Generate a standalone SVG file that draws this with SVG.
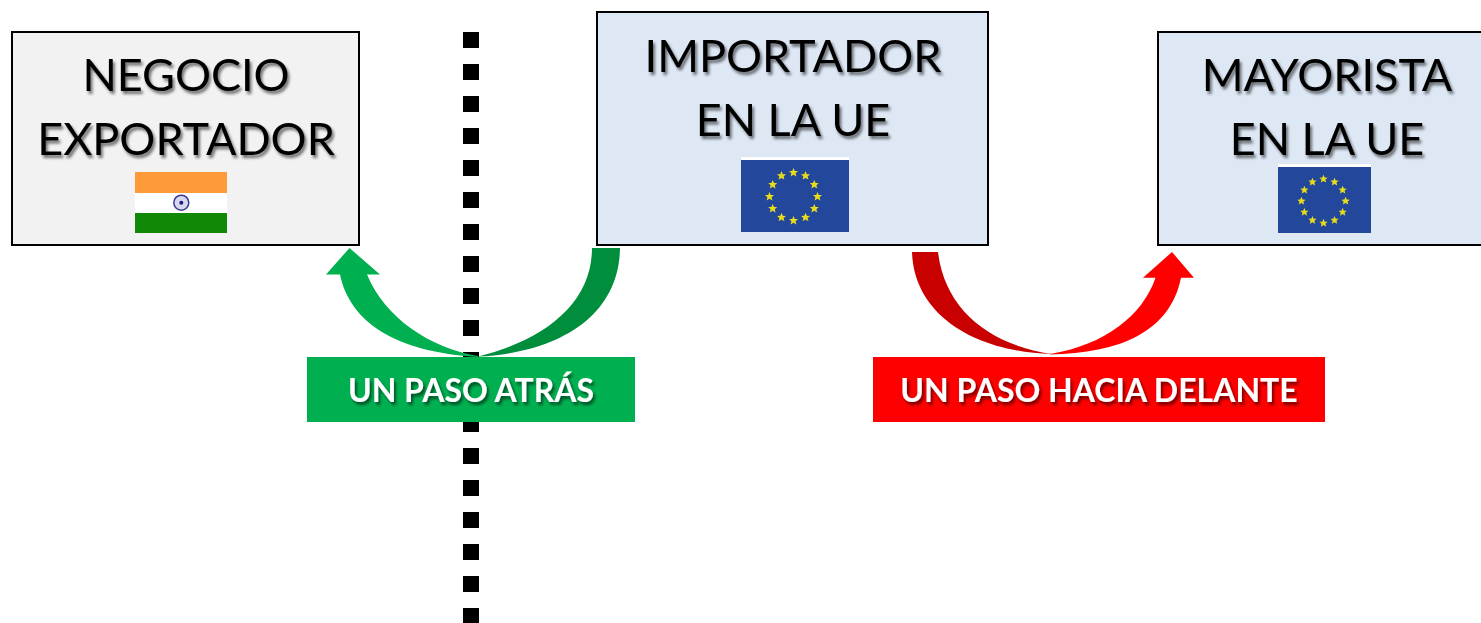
<svg xmlns="http://www.w3.org/2000/svg" width="1481" height="623" viewBox="0 0 1481 623">
<defs>
<filter id="sh" x="-10%" y="-20%" width="120%" height="140%"><feGaussianBlur in="SourceAlpha" stdDeviation="1.6"/><feOffset dx="2" dy="2.5"/><feComponentTransfer><feFuncA type="linear" slope="0.55"/></feComponentTransfer><feMerge><feMergeNode/><feMergeNode in="SourceGraphic"/></feMerge></filter>
<filter id="soft" x="-10%" y="-10%" width="120%" height="120%"><feGaussianBlur stdDeviation="0.5"/></filter>
<polygon id="s" points="0,-4.6 1.3,-1.5 4.5,-1.4 2.1,0.7 2.9,3.9 0,2.2 -2.9,3.9 -2.1,0.7 -4.5,-1.4 -1.3,-1.5" fill="#e6dc1e"/>
<g id="ring" filter="url(#soft)"><use href="#s" x="0" y="-24"/><use href="#s" x="12" y="-20.800"/><use href="#s" x="20.800" y="-12"/><use href="#s" x="24" y="0"/><use href="#s" x="20.800" y="12"/><use href="#s" x="12" y="20.800"/><use href="#s" x="0" y="24"/><use href="#s" x="-12" y="20.800"/><use href="#s" x="-20.800" y="12"/><use href="#s" x="-24" y="0"/><use href="#s" x="-20.800" y="-12"/><use href="#s" x="-12" y="-20.800"/></g>
</defs>
<style>
.box{stroke:#000;stroke-width:2}
.t{font-family:"Lato","Carlito","Open Sans",sans-serif;font-size:45px;fill:#000;text-anchor:middle;filter:url(#sh)}
.l{font-family:"Lato","Carlito","Open Sans",sans-serif;font-size:32px;font-weight:700;fill:#fff;text-anchor:middle;filter:url(#sh)}
</style>
<rect width="1481" height="623" fill="#fff"/>
<g id="connectors">
<path id="divider" d="M471 32V623" fill="none" stroke="#000" stroke-width="16" stroke-dasharray="16 16"/>
<path id="back-dark" d="M620 248C619 318 556 353 478 356.500C545 340 592 303 592 248Z" fill="#008e3d"/>
<path id="back-light" d="M478 357C395 352 350 322 340 274.500L326 274.500L349.500 248L380 274.500L367 274.500C385 318 430 348 478 356Z" fill="#00b050"/>
<path id="fwd-dark" d="M912 252C914 315 975 352 1052 354C990 345 945 310 938 252Z" fill="#c80000"/>
<path id="fwd-light" d="M1050 354.500C1120 353 1170 332 1181 277.700L1194 277.700L1172 252L1143 277.700L1155.500 277.700C1143 315 1105 345 1050 354Z" fill="#f00"/>
</g>
<g id="node-exportador">
<rect class="box" x="12" y="32" width="347" height="213" fill="#f2f2f2"/>
<text class="t" x="186" y="91">NEGOCIO</text>
<text class="t" x="186" y="155">EXPORTADOR</text>
<rect x="135" y="172" width="92" height="21" fill="#ff9a3a"/>
<rect x="135" y="193" width="92" height="20" fill="#fff"/>
<rect x="135" y="213" width="92" height="20" fill="#128807"/>
<circle cx="181.300" cy="202.700" r="7.500" fill="#d8d8ee" stroke="#3a3a96" stroke-width="1.500"/>
<circle cx="181.300" cy="202.700" r="2" fill="#1a1a8a"/>
</g>
<g id="node-importador">
<rect class="box" x="597" y="12" width="391" height="233" fill="#dee8f5"/>
<text class="t" x="793" y="72">IMPORTADOR</text>
<text class="t" x="793" y="136">EN LA UE</text>
<rect x="741" y="157" width="108" height="3" fill="#fff"/>
<rect x="741" y="160" width="108" height="72" fill="#23479a"/>
<use href="#ring" x="793.500" y="196.500"/>
</g>
<g id="node-mayorista">
<path class="box" d="M1481 32H1158V245H1481" fill="#dee8f5"/>
<text class="t" x="1327" y="91">MAYORISTA</text>
<text class="t" x="1327" y="155">EN LA UE</text>
<rect x="1278" y="164" width="93" height="3" fill="#fff"/>
<rect x="1278" y="167" width="93" height="66" fill="#23479a"/>
<use href="#ring" transform="translate(1323.500 201) scale(.92)"/>
</g>
<g id="label-atras">
<rect x="307" y="357" width="328" height="65" fill="#00b050"/>
<text class="l" x="471" y="402">UN PASO ATRÁS</text>
</g>
<g id="label-delante">
<rect x="873" y="357" width="452" height="65" fill="#f00"/>
<text class="l" x="1099" y="402">UN PASO HACIA DELANTE</text>
</g>
</svg>
